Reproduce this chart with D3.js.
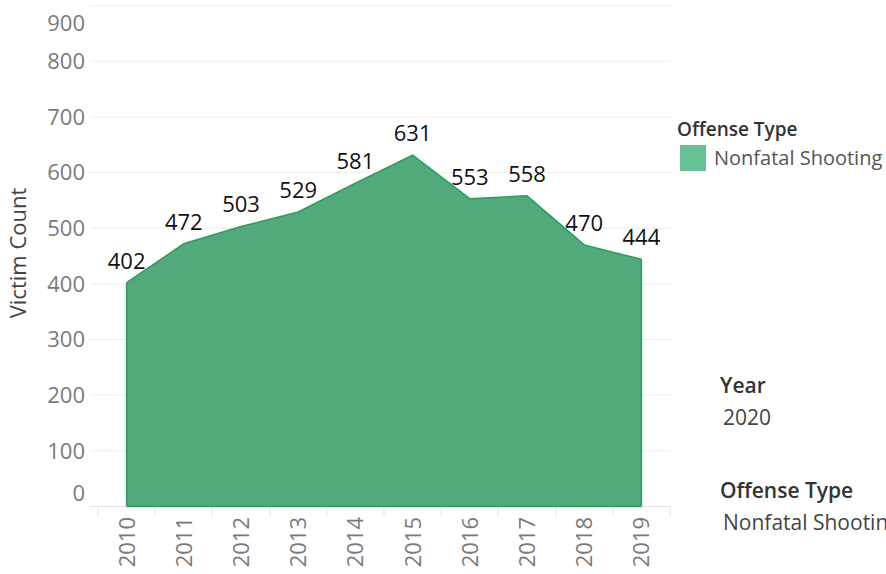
<!DOCTYPE html>
<html>
<head>
<meta charset="utf-8">
<script src="https://cdn.jsdelivr.net/npm/d3@7"></script>
<style>
	body { margin: 0; background: #fff; }
	svg { display: block; font-family: "Open Sans", sans-serif; }
</style>
</head>
<body>
<svg id="chart" width="886" height="574"></svg>
<script>
var years = ["2010", "2011", "2012", "2013", "2014", "2015", "2016", "2017", "2018", "2019"];
var victimCounts = [402, 472, 503, 529, 581, 631, 553, 558, 470, 444];
var yTicks = [0, 100, 200, 300, 400, 500, 600, 700, 800, 900];
var offenseTypes = ["Nonfatal Shooting"];
var filterYear = "2020";

var svg = d3.select("#chart");

var xScale = d3.scaleBand().domain(years).range([98, 670]).padding(0);
var yScale = d3.scaleLinear().domain([0, 900]).range([506.5, 5.5]);

// gridlines
svg.append("g").attr("class", "grid")
	.selectAll("line")
	.data(yTicks.filter(function(d) { return d > 0; }))
	.enter().append("line")
	.attr("x1", 90).attr("x2", 671)
	.attr("y1", function(d) { return yScale(d); })
	.attr("y2", function(d) { return yScale(d); })
	.attr("stroke", "#efefef")
	.attr("stroke-width", 1.2);

// y tick labels (top and bottom are pushed inside like tableau does)
svg.append("g").attr("class", "yLabels")
	.selectAll("text")
	.data(yTicks)
	.enter().append("text")
	.attr("x", 85)
	.attr("y", function(d) {
		if (d == 900) { return yScale(d) + 18; }
		if (d == 0) { return yScale(d) - 13.5; }
		return yScale(d);
	})
	.attr("dy", "0.36em")
	.attr("text-anchor", "end")
	.attr("fill", "#7a7a7a")
	.attr("font-size", 22)
	.text(function(d) { return d; });

svg.append("text")
	.attr("transform", "translate(26,253) rotate(-90)")
	.attr("text-anchor", "middle")
	.attr("fill", "#444")
	.attr("font-size", 22)
	.text("Victim Count");

// area
var xMid = function(d, i) { return xScale(years[i]) + xScale.bandwidth() / 2; };
var area = d3.area()
	.x(xMid)
	.y0(yScale(0))
	.y1(function(d) { return yScale(d); });
var line = d3.line()
	.x(xMid)
	.y(function(d) { return yScale(d); });

svg.append("path")
	.datum(victimCounts)
	.attr("d", area)
	.attr("fill", "#52a97b");
svg.append("path")
	.datum(victimCounts)
	.attr("d", line)
	.attr("fill", "none")
	.attr("stroke", "#2f9a62")
	.attr("stroke-width", 1.5);
// side edges of the area
svg.append("g").selectAll("line")
	.data([0, victimCounts.length - 1])
	.enter().append("line")
	.attr("x1", function(i) { return xMid(null, i); })
	.attr("x2", function(i) { return xMid(null, i); })
	.attr("y1", function(i) { return yScale(victimCounts[i]); })
	.attr("y2", yScale(0))
	.attr("stroke", "#2f9a62")
	.attr("stroke-width", 1.5);

// x axis line and separators
svg.append("line")
	.attr("x1", 90).attr("x2", 671)
	.attr("y1", yScale(0)).attr("y2", yScale(0))
	.attr("stroke", "#e3e3e3").attr("stroke-width", 1.2);
svg.append("line")
	.attr("x1", xMid(null, 0)).attr("x2", xMid(null, years.length - 1))
	.attr("y1", yScale(0)).attr("y2", yScale(0))
	.attr("stroke", "#2f9a62").attr("stroke-width", 1.5);

var bounds = years.map(function(d) { return xScale(d); }).concat([xScale.range()[1]]);
svg.append("g").selectAll("line")
	.data(bounds)
	.enter().append("line")
	.attr("x1", function(d) { return d; })
	.attr("x2", function(d) { return d; })
	.attr("y1", yScale(0) + 1)
	.attr("y2", yScale(0) + 9)
	.attr("stroke", "#e6e6e6")
	.attr("stroke-width", 1.2);

svg.append("g").attr("class", "xLabels")
	.selectAll("text")
	.data(years)
	.enter().append("text")
	.attr("transform", function(d) { return "translate(" + (xScale(d) + xScale.bandwidth() / 2) + ",517) rotate(-90)"; })
	.attr("dy", "0.36em")
	.attr("text-anchor", "end")
	.attr("fill", "#7a7a7a")
	.attr("font-size", 22)
	.text(function(d) { return d; });

// data labels
svg.append("g").attr("class", "valueLabels")
	.selectAll("text")
	.data(victimCounts)
	.enter().append("text")
	.attr("x", xMid)
	.attr("y", function(d) { return yScale(d) - 14; })
	.attr("text-anchor", "middle")
	.attr("fill", "#111")
	.attr("font-size", 22)
	.text(function(d) { return d; });

// legend
svg.append("text")
	.attr("x", 677).attr("y", 136)
	.attr("fill", "#333")
	.attr("font-size", 19)
	.attr("font-weight", 600)
	.text("Offense Type");
var legend = svg.append("g").selectAll("g")
	.data(offenseTypes)
	.enter().append("g");
legend.append("rect")
	.attr("x", 680).attr("y", function(d, i) { return 145 + i * 26; })
	.attr("width", 26).attr("height", 26)
	.attr("fill", "#66c294");
legend.append("text")
	.attr("x", 714).attr("y", function(d, i) { return 165 + i * 26; })
	.attr("fill", "#555")
	.attr("font-size", 20)
	.text(function(d) { return d; });

// filter cards
svg.append("text")
	.attr("x", 720).attr("y", 393)
	.attr("fill", "#333")
	.attr("font-size", 21)
	.attr("font-weight", 600)
	.text("Year");
svg.append("text")
	.attr("x", 723).attr("y", 425)
	.attr("fill", "#444")
	.attr("font-size", 21)
	.text(filterYear);
svg.append("text")
	.attr("x", 720).attr("y", 498)
	.attr("fill", "#333")
	.attr("font-size", 21)
	.attr("font-weight", 600)
	.text("Offense Type");
svg.append("text")
	.attr("x", 723).attr("y", 530)
	.attr("fill", "#444")
	.attr("font-size", 21)
	.text(offenseTypes[0]);
</script>
</body>
</html>
